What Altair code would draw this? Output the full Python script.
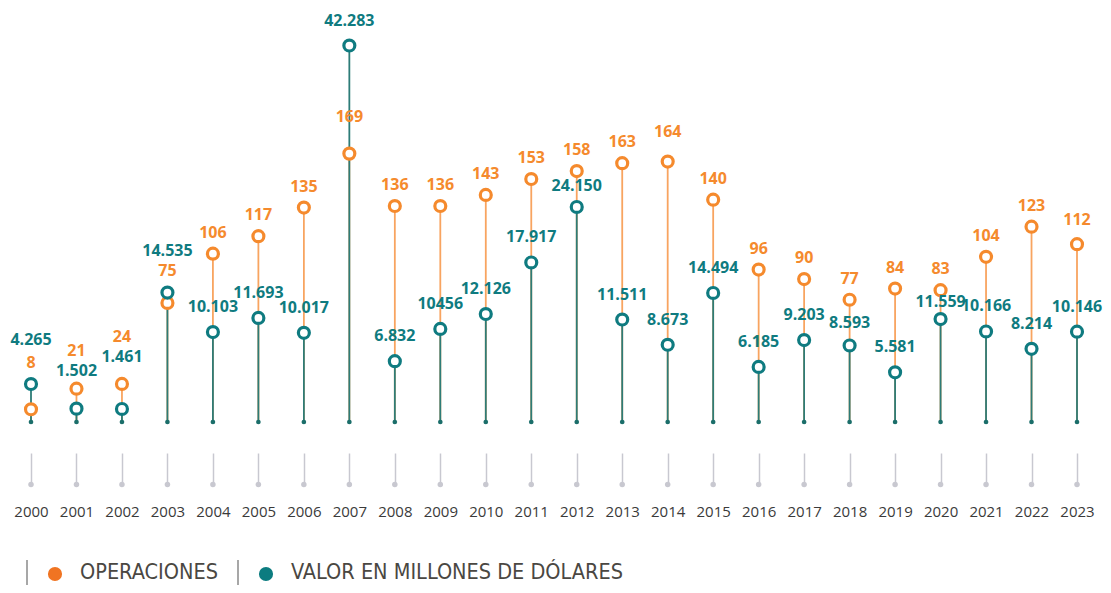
import altair as alt
import pandas as pd

# ---------------- data ----------------
years = list(range(2000, 2024))
operaciones = [8, 21, 24, 75, 106, 117, 135, 169, 136, 136, 143, 153,
               158, 163, 164, 140, 96, 90, 77, 84, 83, 104, 123, 112]
valor = [4.265, 1.502, 1.461, 14.535, 10.103, 11.693, 10.017, 42.283,
         6.832, 10.456, 12.126, 17.917, 24.150, 11.511, 8.673, 14.494,
         6.185, 9.203, 8.593, 5.581, 11.559, 10.166, 8.214, 10.146]
valor_labels = ["4.265", "1.502", "1.461", "14.535", "10.103", "11.693",
                "10.017", "42.283", "6.832", "10456", "12.126", "17.917",
                "24.150", "11.511", "8.673", "14.494", "6.185", "9.203",
                "8.593", "5.581", "11.559", "10.166", "8.214", "10.146"]
ops_labels = [str(v) for v in operaciones]

legend_items = ["OPERACIONES", "VALOR EN MILLONES DE DÓLARES"]

# ---------------- style ----------------
W, H = 1046, 414
PAD_L, PAD_R, PAD_T, PAD_B = 23, 26, 0, 163
ORANGE = "#f58a2d"
ORANGE_STEM = "#f8a460"
TEAL = "#0f7b80"
TEAL_STEM = "#2d7c77"
BASE_DOT = "#1b6e6a"
GREY = "#c8c8d0"
TEXT = "#3a3a3a"
LEG_TEXT = "#4a4742"
NUM_FONT = "Open Sans"

OPS_DOMAIN = [0, 260.7]
VAL_DOMAIN = [0, 46.5]

# label nudges (pixels above the circle)
ops_dy_default = -21
ops_dy_special = {2000: -46, 2001: -38, 2002: -47, 2003: -32, 2007: -37, 2014: -30, 2023: -24}
val_dy_default = -25
val_dy_special = {2000: -44, 2001: -38, 2002: -52, 2003: -42, 2012: -21, 2018: -22, 2020: -17}

df = pd.DataFrame({
    "year": years,
    "ops": operaciones,
    "val": valor,
    "ops_label": ops_labels,
    "val_label": valor_labels,
})
df["ops_dy"] = [ops_dy_special.get(y, ops_dy_default) for y in years]
df["val_dy"] = [val_dy_special.get(y, val_dy_default) for y in years]

base = alt.Chart(df)

x_enc = alt.X(
    "year:Q",
    scale=alt.Scale(domain=[2000, 2023], nice=False, zero=False),
    axis=alt.Axis(
        values=years, format="d", title=None, domain=False, grid=False,
        offset=31, tickSize=31, tickColor=GREY, tickWidth=1.5,
        labelFont=NUM_FONT, labelFontSize=15, labelColor=TEXT,
        labelPadding=20, labelFlush=False,
    ),
)
y_ops = alt.Y("ops:Q", scale=alt.Scale(domain=OPS_DOMAIN, nice=False), axis=None)
y_val = alt.Y("val:Q", scale=alt.Scale(domain=VAL_DOMAIN, nice=False), axis=None)

ops_stem = base.mark_rule(color=ORANGE_STEM, strokeWidth=1.8).encode(
    x=x_enc, y=y_ops, y2=alt.datum(0))
val_stem = base.mark_rule(color=TEAL_STEM, strokeWidth=1.8).encode(
    x=x_enc, y=y_val, y2=alt.datum(0))

ops_pts = base.mark_point(shape="circle", filled=False, fill="white", fillOpacity=1,
                          stroke=ORANGE, strokeWidth=3.2, size=120, opacity=1).encode(
    x=x_enc, y=y_ops)
val_pts = base.mark_point(shape="circle", filled=False, fill="white", fillOpacity=1,
                          stroke=TEAL, strokeWidth=3.2, size=120, opacity=1).encode(
    x=x_enc, y=y_val)

base_dots = base.mark_point(shape="circle", filled=True, color=BASE_DOT, size=22, opacity=1).encode(
    x=x_enc, y=alt.value(H))
grey_dots = base.mark_point(shape="circle", filled=True, color=GREY, size=30, opacity=1).encode(
    x=x_enc, y=alt.value(H + 62.5))

label_layers = []
for dy in sorted(set(df["ops_dy"])):
    label_layers.append(
        base.transform_filter(alt.datum.ops_dy == int(dy)).mark_text(
            dy=int(dy), font=NUM_FONT, fontSize=16, fontWeight="bold", color=ORANGE,
            align="center", baseline="middle").encode(
            x=x_enc, y=y_ops, text="ops_label:N"))
for dy in sorted(set(df["val_dy"])):
    label_layers.append(
        base.transform_filter(alt.datum.val_dy == int(dy)).mark_text(
            dy=int(dy), font=NUM_FONT, fontSize=16, fontWeight="bold", color=TEAL,
            align="center", baseline="middle").encode(
            x=x_enc, y=y_val, text="val_label:N"))

# ---------------- legend ----------------
leg = alt.Chart(pd.DataFrame({"a": [0]}))
LEG_FONT = "Liberation Sans Narrow, DejaVu Sans Condensed, Roboto"
LEG_Y = 565
legend_layers = [
    leg.mark_rule(color="#8a8a8a", strokeWidth=1.5).encode(
        x=alt.value(-4), y=alt.value(LEG_Y - 13), y2=alt.value(LEG_Y + 12)),
    leg.mark_point(shape="circle", filled=True, color="#f07422", size=200, opacity=1).encode(
        x=alt.value(24), y=alt.value(LEG_Y + 1)),
    leg.mark_text(align="left", baseline="middle", font=LEG_FONT, fontSize=21.5, color=LEG_TEXT).encode(
        x=alt.value(49), y=alt.value(LEG_Y), text=alt.value(legend_items[0])),
    leg.mark_rule(color="#8a8a8a", strokeWidth=1.5).encode(
        x=alt.value(207), y=alt.value(LEG_Y - 13), y2=alt.value(LEG_Y + 12)),
    leg.mark_point(shape="circle", filled=True, color="#0c7c80", size=200, opacity=1).encode(
        x=alt.value(235), y=alt.value(LEG_Y + 1)),
    leg.mark_text(align="left", baseline="middle", font=LEG_FONT, fontSize=21.5, color=LEG_TEXT).encode(
        x=alt.value(260), y=alt.value(LEG_Y), text=alt.value(legend_items[1])),
]

chart = alt.layer(
    ops_stem, val_stem, grey_dots, base_dots, ops_pts, val_pts,
    *label_layers, *legend_layers,
).resolve_scale(y="independent").properties(
    width=W, height=H,
    autosize=alt.AutoSizeParams(type="none"),
    padding={"left": PAD_L, "right": PAD_R, "top": PAD_T, "bottom": PAD_B},
).configure_view(stroke=None)

chart.save("out.html", embed_options={"renderer": "svg", "actions": False})
